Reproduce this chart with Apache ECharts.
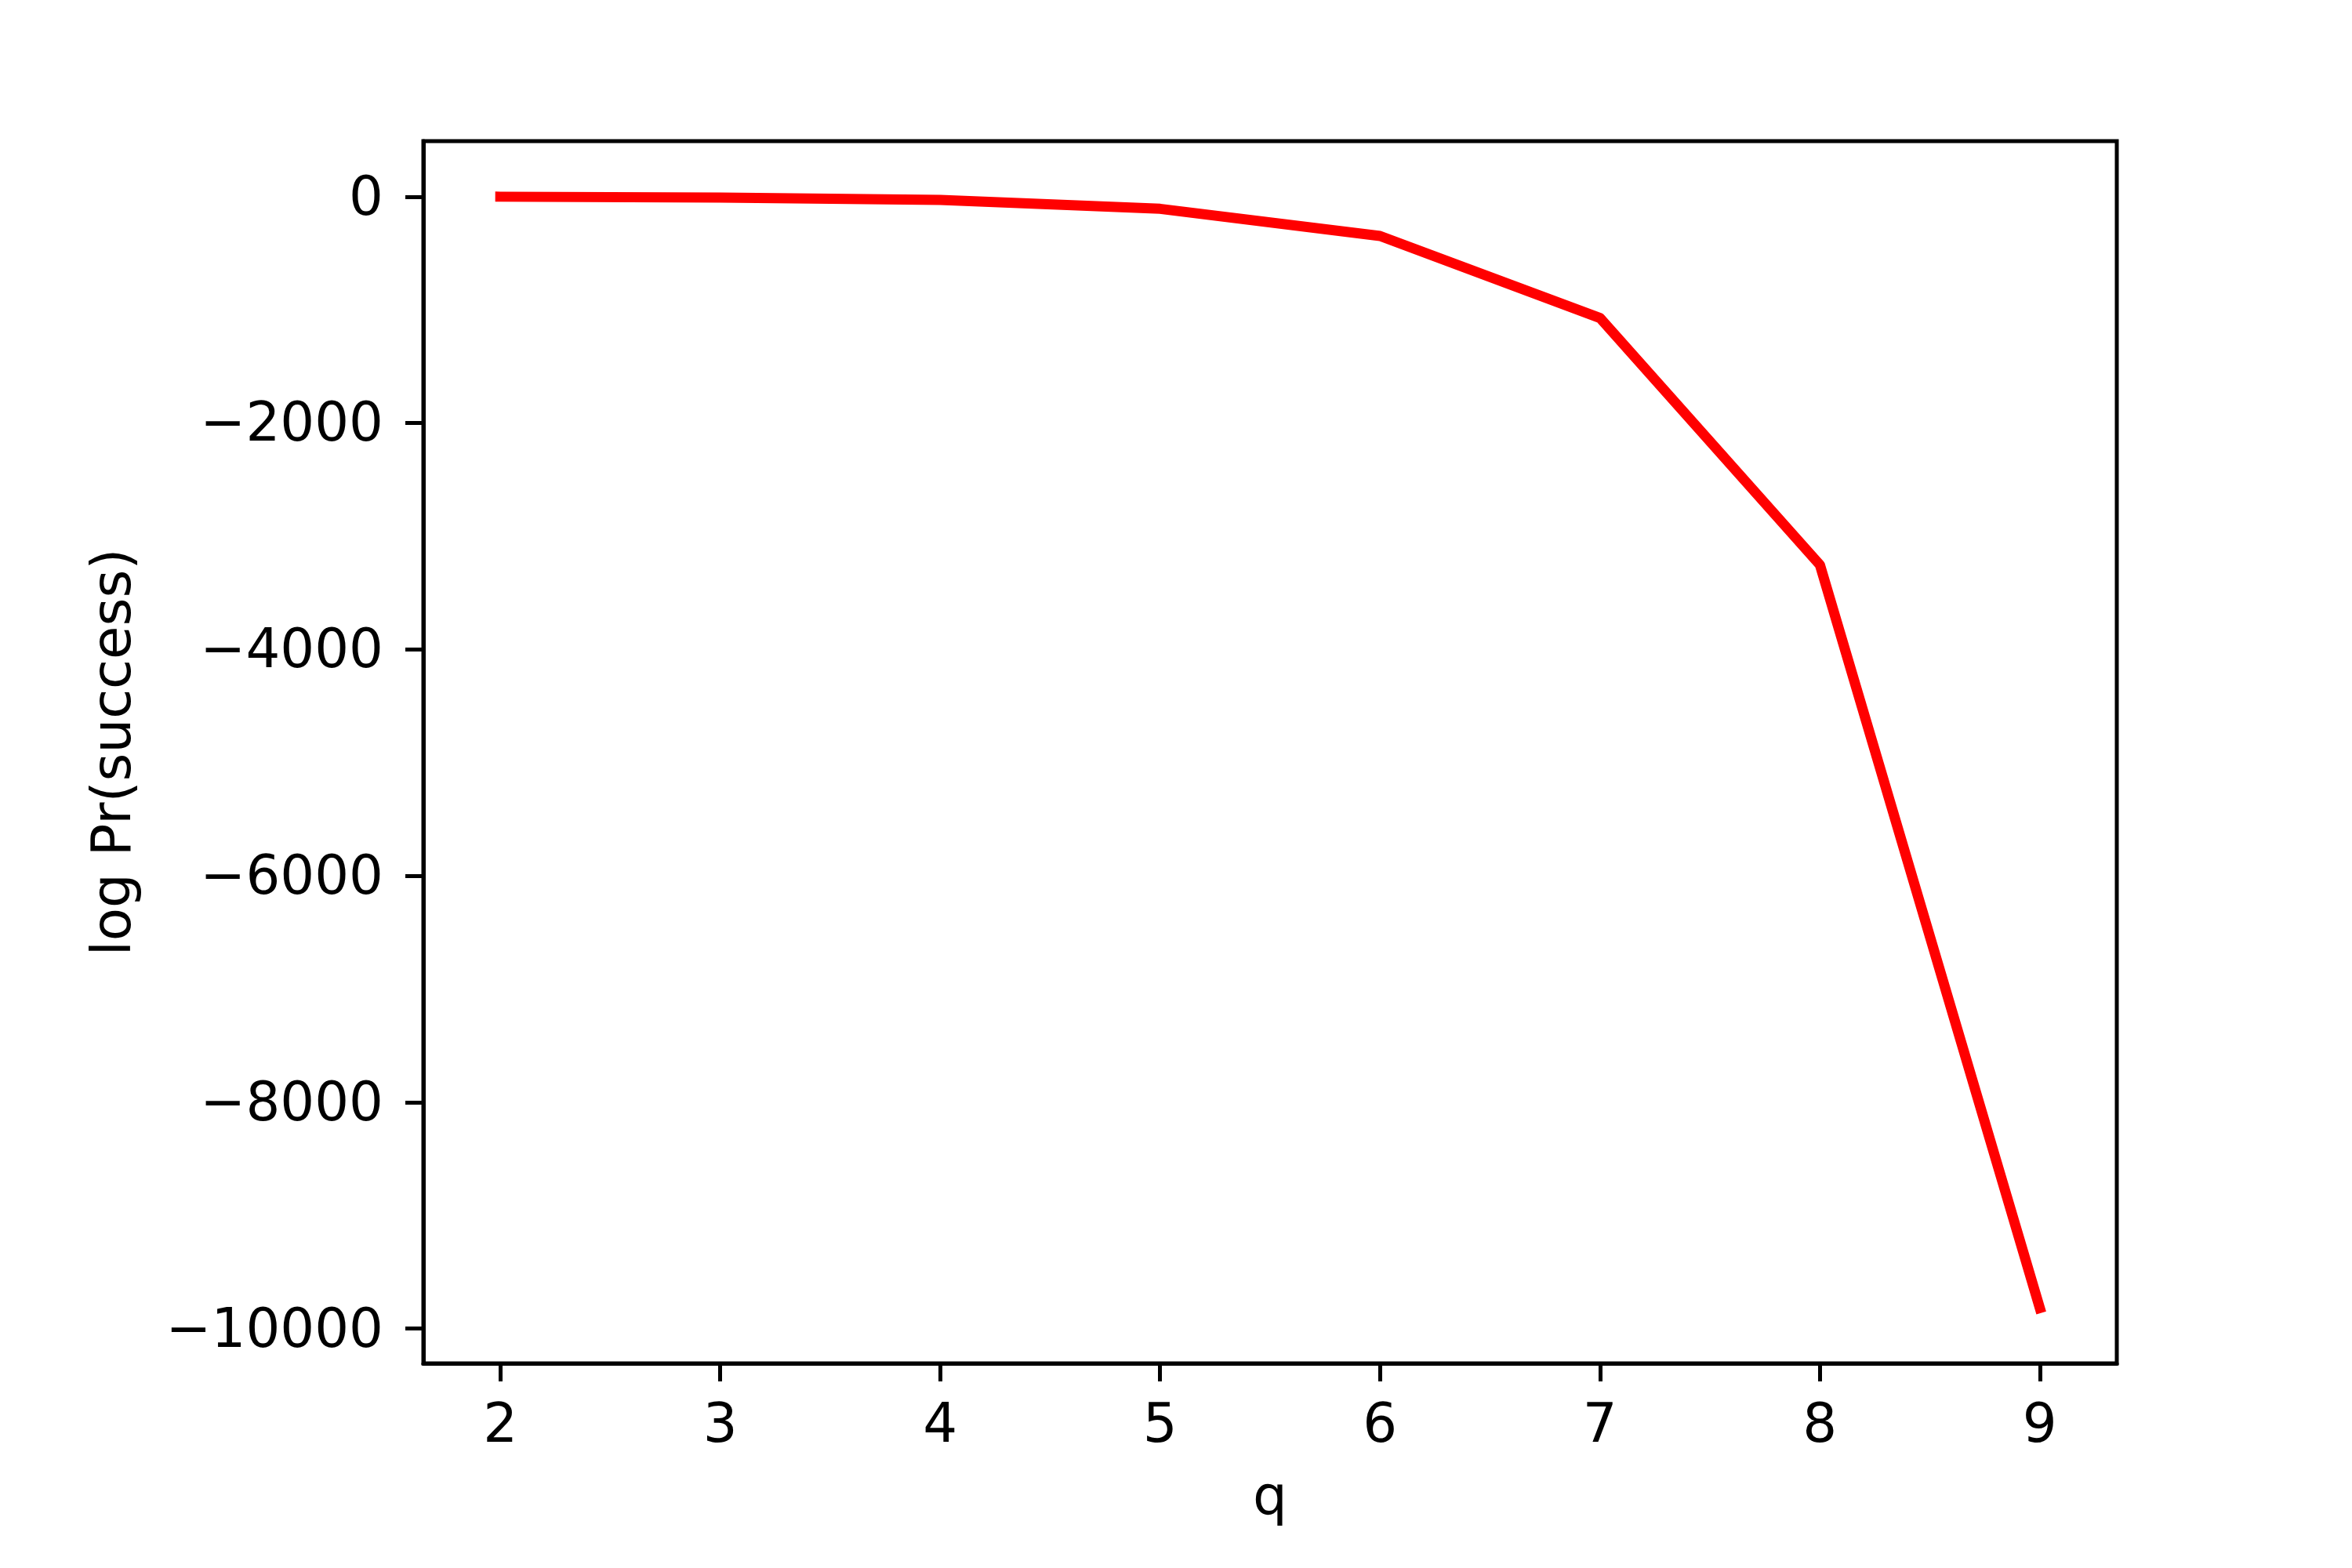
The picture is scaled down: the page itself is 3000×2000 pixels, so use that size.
<!DOCTYPE html>
<html>
<head>
<meta charset="utf-8">
<script src="https://cdn.jsdelivr.net/npm/echarts@6/dist/echarts.min.js"></script>
<style>html,body{margin:0;padding:0;background:#fff}#c{width:3000px;height:2000px}</style>
</head>
<body>
<div id="c"></div>
<script>
const qValues = [2, 3, 4, 5, 6, 7, 8, 9];
const logPrSuccess = [-1, -8, -30, -108, -348, -1072, -3253, -9818];
const xTicks = [2, 3, 4, 5, 6, 7, 8, 9];
const yTicks = [-10000, -8000, -6000, -4000, -2000, 0];

const FONT = 'DejaVu Sans';
const FS = 69;
const chart = echarts.init(document.getElementById('c'), null, {renderer: 'canvas'});
const fmt = v => String(v).replace('-', '\u2212');
chart.setOption({
  animation: false,
  backgroundColor: '#fff',
  grid: {left: 540, right: 300, top: 180, bottom: 261, show: true, borderColor: '#000', borderWidth: 5, backgroundColor: 'transparent'},
  xAxis: {
    type: 'value', min: 1.65, max: 9.35,
    name: 'q', nameLocation: 'middle', nameGap: 141,
    nameTextStyle: {fontFamily: FONT, fontSize: FS, color: '#000'},
    splitLine: {show: false},
    axisLine: {show: true, onZero: false, lineStyle: {color: '#000', width: 5}},
    axisTick: {show: true, inside: false, length: 23, customValues: xTicks, lineStyle: {color: '#000', width: 5}},
    axisLabel: {show: true, margin: 48, customValues: xTicks, fontFamily: FONT, fontSize: FS, color: '#000', formatter: fmt}
  },
  yAxis: {
    type: 'value', min: -10307, max: 490,
    name: 'log Pr(success)', nameLocation: 'middle', nameGap: 357, nameRotate: 90,
    nameTextStyle: {fontFamily: FONT, fontSize: FS, color: '#000'},
    splitLine: {show: false},
    axisLine: {show: true, onZero: false, lineStyle: {color: '#000', width: 5}},
    axisTick: {show: true, inside: false, length: 23, customValues: yTicks, lineStyle: {color: '#000', width: 5}},
    axisLabel: {
      show: true, margin: 51, customValues: yTicks, fontFamily: FONT, fontSize: FS, color: '#000',
      formatter: v => '{v|' + fmt(v) + '}',
      rich: {v: {fontFamily: FONT, fontSize: FS, color: '#000', padding: [10, 0, 0, 0]}}
    }
  },
  series: [{
    type: 'line',
    data: qValues.map((q, i) => [q, logPrSuccess[i]]),
    showSymbol: false, symbol: 'none',
    lineStyle: {color: '#ff0000', width: 13, cap: 'square', join: 'round'},
    clip: false
  }]
});
</script>
</body>
</html>
